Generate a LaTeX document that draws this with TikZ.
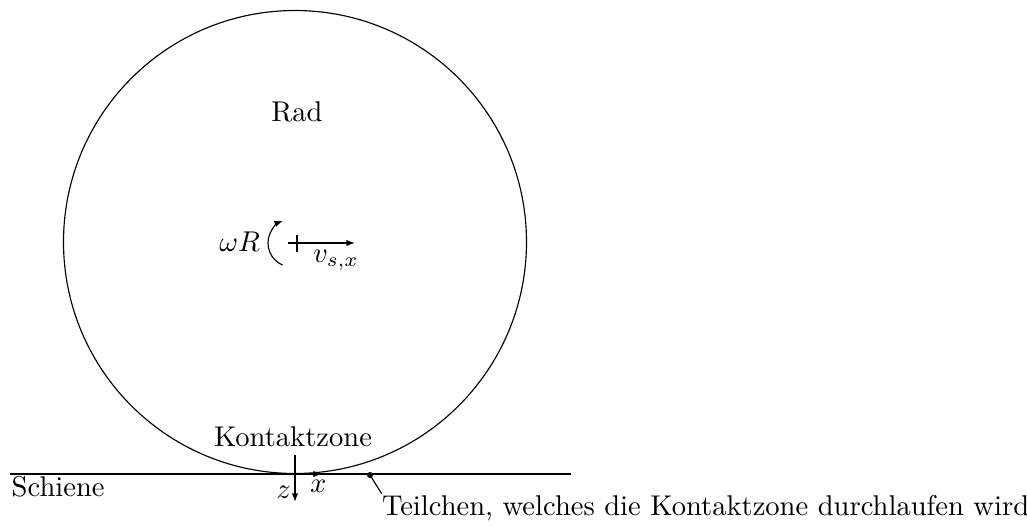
\documentclass[tikz,border=0pt]{standalone}
\usetikzlibrary{arrows.meta}
\begin{document}
\begin{tikzpicture}[x=0.35pt,y=-0.35pt,
  arr/.style={-{Latex[length=3pt,width=2.2pt]}},
  lbl/.style={inner sep=0pt,outer sep=0pt}]
\useasboundingbox (0,0) rectangle (1027,525);
% wheel
\coordinate (M) at (295,242);
\draw (M) circle[radius=231.5];
\node[lbl] (rad) at (297,112) {Rad};
% rail
\coordinate (railL) at (10,474);
\coordinate (railR) at (571,474);
\draw (railL) -- (railR);
\node[lbl,anchor=base west] (schiene) at (11.7,496.7) {Schiene};
% contact zone
\coordinate (czL) at (283,474);
\coordinate (czR) at (307,474);
\draw[line width=0.8pt] (czL) -- (czR);
\coordinate (O) at (295,474);
\coordinate (Otop) at (295,455);
\coordinate (xend) at (322,474);
\coordinate (zend) at (295,502);
\draw[arr] (O) -- (xend);
\draw[arr] (Otop) -- (zend);
\node[lbl,anchor=base east] (zlab) at (291,498) {$z$};
\node[lbl,anchor=base west] (xlab) at (310,492) {$x$};
\node[lbl,anchor=base west] (kz) at (214,446.7) {Kontaktzone};
% particle
\coordinate (P) at (370,475);
\fill (P) circle[radius=3];
\coordinate (Pend) at (381.7,493.7);
\draw (P) -- (Pend);
\node[lbl,anchor=base west] (teil) at (382,515) {Teilchen, welches die Kontaktzone durchlaufen wird};
% centre
\coordinate (C) at (297,243);
\coordinate (Cl) at (288,243);
\coordinate (Ct) at (297,235);
\coordinate (Cb) at (297,252);
\coordinate (vend) at (355,243);
\draw (Ct) -- (Cb);
\draw[arr] (Cl) -- (vend);
\node[lbl,anchor=base west] (vlab) at (313,262) {$v_{s,x}$};
\coordinate (A) at (292,243);
\draw[arr] (A) ++(113:24) arc[start angle=113, end angle=248, radius=24];
\node[lbl,anchor=base east] (om) at (260,251.7) {$\omega R$};
\end{tikzpicture}
\end{document}
